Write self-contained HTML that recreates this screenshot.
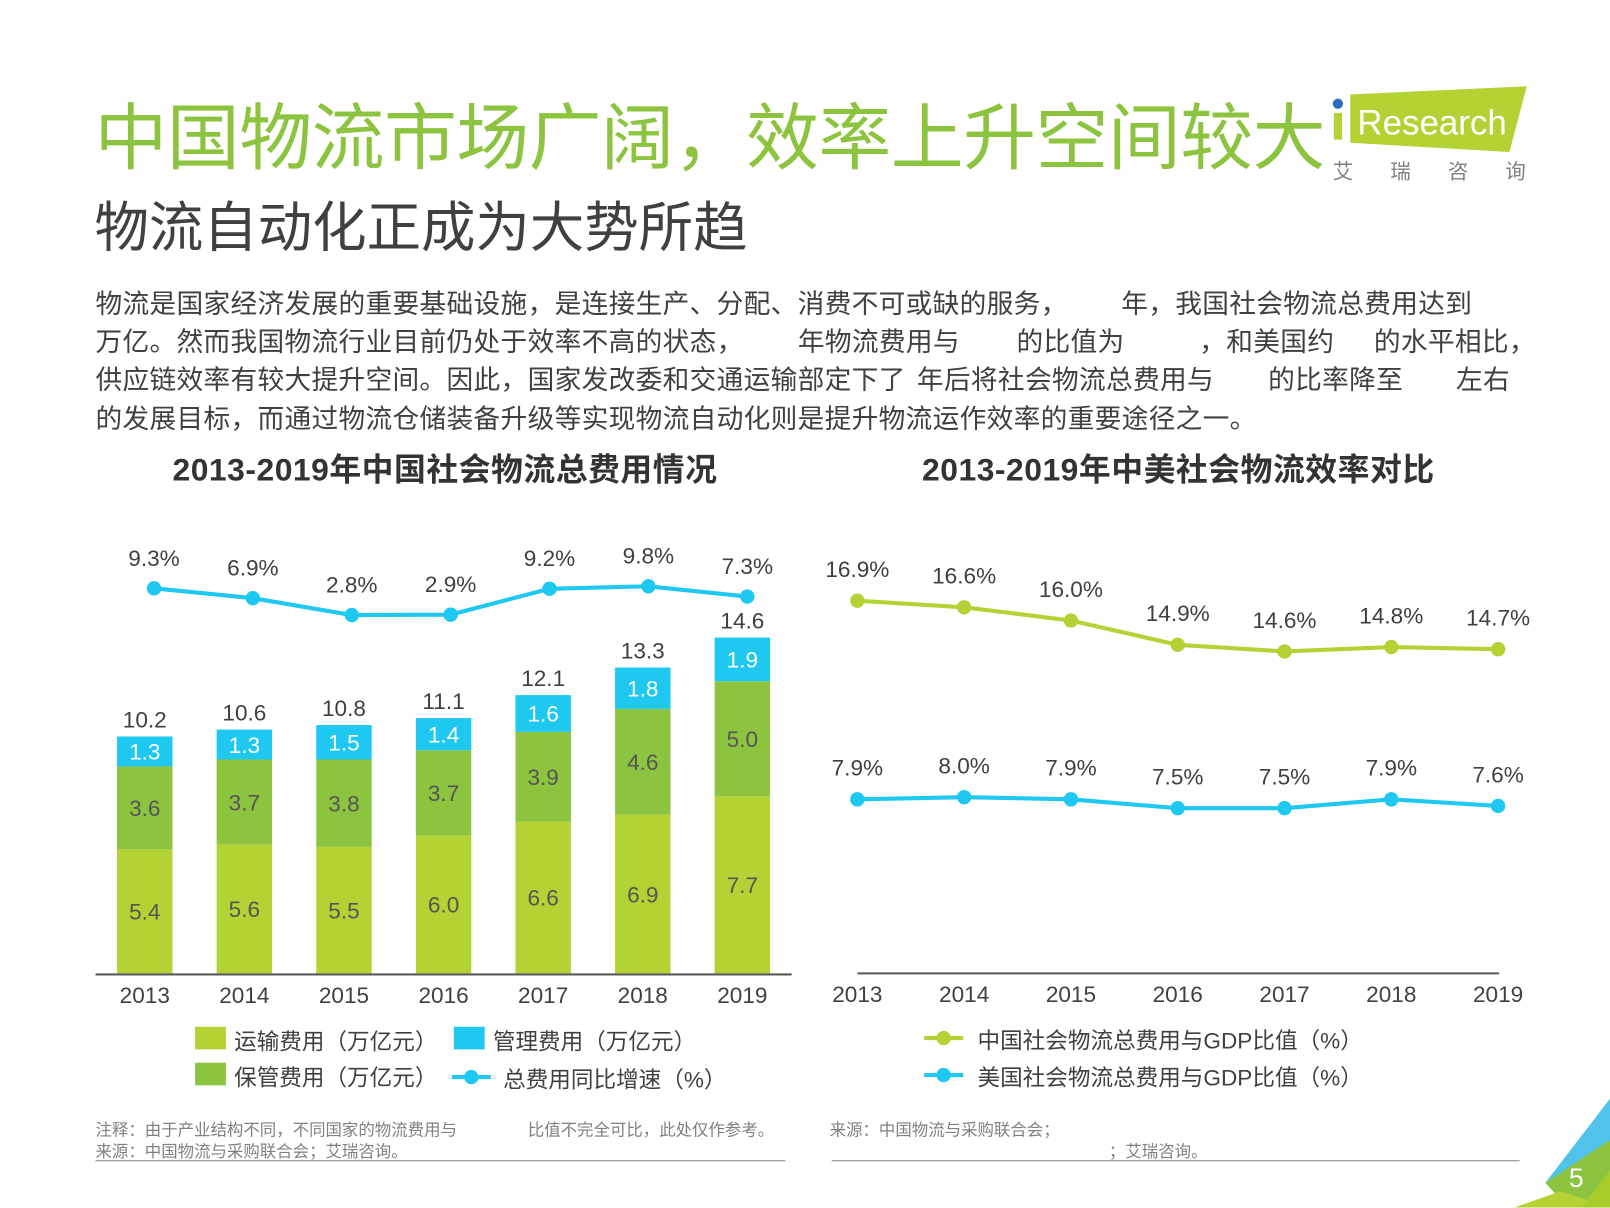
<!DOCTYPE html>
<html><head><meta charset="utf-8">
<style>
html,body{margin:0;padding:0;background:#fff;width:1610px;height:1208px;overflow:hidden}
#stage{position:absolute;left:0;top:0;width:1568px;height:1176px;transform:scale(1.02679);transform-origin:0 0;font-family:"Liberation Sans","Noto Sans CJK SC",sans-serif;color:#404040}
.a{position:absolute;white-space:nowrap}
.body{font-size:26px;color:#404040;letter-spacing:0.3px}
.leg{font-size:22px;color:#404040}
.foot{font-size:16px;color:#808080}
</style></head><body>
<div id="stage">
<div class="a" style="left:92px;top:78px;font-size:71px;color:#8cc43f;letter-spacing:-0.5px">中国物流市场广阔，效率上升空间较大</div>
<div class="a" style="left:92px;top:180px;font-size:53px;color:#404040">物流自动化正成为大势所趋</div>

<svg class="a" style="left:1290px;top:78px" width="220" height="110">
<polygon points="25,14 197,6 180,70 25,61" fill="#b3d234"/>
<circle cx="13" cy="23" r="5" fill="#2a6ebb"/>
<rect x="9" y="32" width="8" height="26" fill="#b3d234"/>
<text x="32" y="53" font-size="34" fill="#fff" font-family="Liberation Sans,sans-serif">Research</text>
<text x="8" y="96" font-size="20" fill="#808080" font-family="Noto Sans CJK SC,sans-serif" letter-spacing="36">艾瑞咨询</text>
</svg>

<div class="a body" style="left:93px;top:276px">物流是国家经济发展的重要基础设施，是连接生产、分配、消费不可或缺的服务，</div>
<div class="a body" style="left:1092px;top:276px">年，我国社会物流总费用达到</div>
<div class="a body" style="left:93px;top:313px">万亿。然而我国物流行业目前仍处于效率不高的状态，</div>
<div class="a body" style="left:777px;top:313px">年物流费用与</div>
<div class="a body" style="left:990px;top:313px">的比值为</div>
<div class="a body" style="left:1168px;top:313px">，和美国约</div>
<div class="a body" style="left:1338px;top:313px">的水平相比，</div>
<div class="a body" style="left:93px;top:350px">供应链效率有较大提升空间。因此，国家发改委和交通运输部定下了</div>
<div class="a body" style="left:893px;top:350px">年后将社会物流总费用与</div>
<div class="a body" style="left:1235px;top:350px">的比率降至</div>
<div class="a body" style="left:1418px;top:350px">左右</div>
<div class="a body" style="left:93px;top:388px">的发展目标，而通过物流仓储装备升级等实现物流自动化则是提升物流运作效率的重要途径之一。</div>

<div class="a" style="left:168px;top:432px;font-size:31px;font-weight:bold;color:#333;letter-spacing:0.5px">2013-2019年中国社会物流总费用情况</div>
<div class="a" style="left:898px;top:432px;font-size:31px;font-weight:bold;color:#333;letter-spacing:0.5px">2013-2019年中美社会物流效率对比</div>

<svg id="chart" class="a" style="left:0;top:0" width="1568" height="1176"></svg>

<div class="a" style="left:190px;top:1000px;width:30px;height:22px;background:#b3d234"></div>
<div class="a leg" style="left:228px;top:997px">运输费用（万亿元）</div>
<div class="a" style="left:442px;top:1000px;width:30px;height:22px;background:#1fc8f0"></div>
<div class="a leg" style="left:480px;top:997px">管理费用（万亿元）</div>
<div class="a" style="left:190px;top:1035px;width:30px;height:22px;background:#8cc43f"></div>
<div class="a leg" style="left:228px;top:1032px">保管费用（万亿元）</div>
<svg class="a" style="left:440px;top:1038px" width="40" height="22"><line x1="0" y1="11" x2="38" y2="11" stroke="#1fc8f0" stroke-width="4"/><circle cx="19" cy="11" r="7" fill="#1fc8f0"/></svg>
<div class="a leg" style="left:490px;top:1034px">总费用同比增速（%）</div>
<svg class="a" style="left:900px;top:1000px" width="40" height="22"><line x1="0" y1="11" x2="38" y2="11" stroke="#b3d234" stroke-width="4"/><circle cx="19" cy="11" r="7" fill="#b3d234"/></svg>
<div class="a leg" style="left:952px;top:996px">中国社会物流总费用与GDP比值（%）</div>
<svg class="a" style="left:900px;top:1036px" width="40" height="22"><line x1="0" y1="11" x2="38" y2="11" stroke="#1fc8f0" stroke-width="4"/><circle cx="19" cy="11" r="7" fill="#1fc8f0"/></svg>
<div class="a leg" style="left:952px;top:1032px">美国社会物流总费用与GDP比值（%）</div>

<div class="a foot" style="left:93px;top:1087px">注释：由于产业结构不同，不同国家的物流费用与</div>
<div class="a foot" style="left:514px;top:1087px">比值不完全可比，此处仅作参考。</div>
<div class="a foot" style="left:93px;top:1108px">来源：中国物流与采购联合会；艾瑞咨询。</div>
<div class="a foot" style="left:808px;top:1087px">来源：中国物流与采购联合会；</div>
<div class="a foot" style="left:1080px;top:1108px">；艾瑞咨询。</div>
<div class="a" style="left:93px;top:1130px;width:672px;height:1px;background:#808080"></div>
<div class="a" style="left:810px;top:1130px;width:670px;height:1px;background:#808080"></div>

<svg class="a" style="left:1460px;top:1060px" width="108" height="116">
<polygon points="108,10 108,50 60,108 45,92" fill="#4fc3ea"/>
<polygon points="108,50 108,116 20,116 60,108 45,92" fill="#8cc43f"/>
<polygon points="60,100 108,116 15,116" fill="#b3d234"/>
<polygon points="80,116 108,80 108,116" fill="#a8cc2a"/>
</svg>
<div class="a" style="left:1528px;top:1132px;font-size:26px;color:#fff">5</div>
</div>
<script>
const years=["2013","2014","2015","2016","2017","2018","2019"];
const transport=[5.4,5.6,5.5,6.0,6.6,6.9,7.7];
const storage=[3.6,3.7,3.8,3.7,3.9,4.6,5.0];
const management=[1.3,1.3,1.5,1.4,1.6,1.8,1.9];
const totals=["10.2","10.6","10.8","11.1","12.1","13.3","14.6"];
const growth=[9.3,6.9,2.8,2.9,9.2,9.8,7.3];
const chinaRatio=[16.9,16.6,16.0,14.9,14.6,14.8,14.7];
const usRatio=[7.9,8.0,7.9,7.5,7.5,7.9,7.6];

const NS="http://www.w3.org/2000/svg";
const svg=document.getElementById('chart');
function mk(tag,attrs,parent){const e=document.createElementNS(NS,tag);for(const k in attrs)e.setAttribute(k,attrs[k]);(parent||svg).appendChild(e);return e;}
function txt(x,y,s,size,fill,parent){const t=mk('text',{x:x,y:y,'text-anchor':'middle','font-size':size,fill:fill,'font-family':'Liberation Sans, Noto Sans CJK SC, sans-serif'},parent);t.textContent=s;return t;}
const base=948;
const barX=i=>141+i*97;
const barY=v=>base-v*22.4;
const gX=i=>150+i*96.3;
const gY=v=>610.2-v*4;
const rX=i=>835+i*104;
const rY=v=>585-(v-16.9)*21.5;

const left=mk('g',{});


years.forEach((y,i)=>{
  const x=barX(i)-27;
  const segs=[[transport[i],'#b3d234','#555'],[storage[i],'#8cc43f','#555'],[management[i],'#1fc8f0','#fff']];
  let acc=0;
  segs.forEach((s,j)=>{
    const y0=barY(acc),y1=barY(acc+s[0]);
    const r=mk('rect',{x:x,y:y1,width:54,height:y0-y1,fill:s[1]},left);
    
    
    txt(barX(i),(y0+y1)/2+8,s[0].toFixed(1),22,s[2],left);
    acc+=s[0];
  });
  txt(barX(i),barY(acc)-9,totals[i],22,'#404040',left);
  txt(barX(i),977,y,22,'#404040',left);
});
const ax=mk('line',{x1:93,y1:base+1,x2:771,y2:base+1,stroke:'#595959','stroke-width':2},left);


const gl=mk('polyline',{points:growth.map((v,i)=>gX(i)+','+gY(v)).join(' '),fill:'none',stroke:'#1fc8f0','stroke-width':4},left);


growth.forEach((v,i)=>{
  const c=mk('circle',{cx:gX(i),cy:gY(v),r:7,fill:'#1fc8f0'},left);
  
  
  txt(gX(i),gY(v)-22,v.toFixed(1)+'%',22,'#404040',left);
});

const right=mk('g',{});


const ax2=mk('line',{x1:835,y1:base,x2:1460,y2:base,stroke:'#595959','stroke-width':2},right);


[[chinaRatio,'#b3d234','china'],[usRatio,'#1fc8f0','us']].forEach(([arr,col,nm])=>{
  const l=mk('polyline',{points:arr.map((v,i)=>rX(i)+','+rY(v)).join(' '),fill:'none',stroke:col,'stroke-width':4},right);
  
  
  arr.forEach((v,i)=>{
    const c=mk('circle',{cx:rX(i),cy:rY(v),r:7,fill:col},right);
    
    
    txt(rX(i),rY(v)-23,v.toFixed(1)+'%',22,'#404040',right);
  });
});
years.forEach((y,i)=>txt(rX(i),976,y,22,'#404040',right));
</script>
</body></html>
